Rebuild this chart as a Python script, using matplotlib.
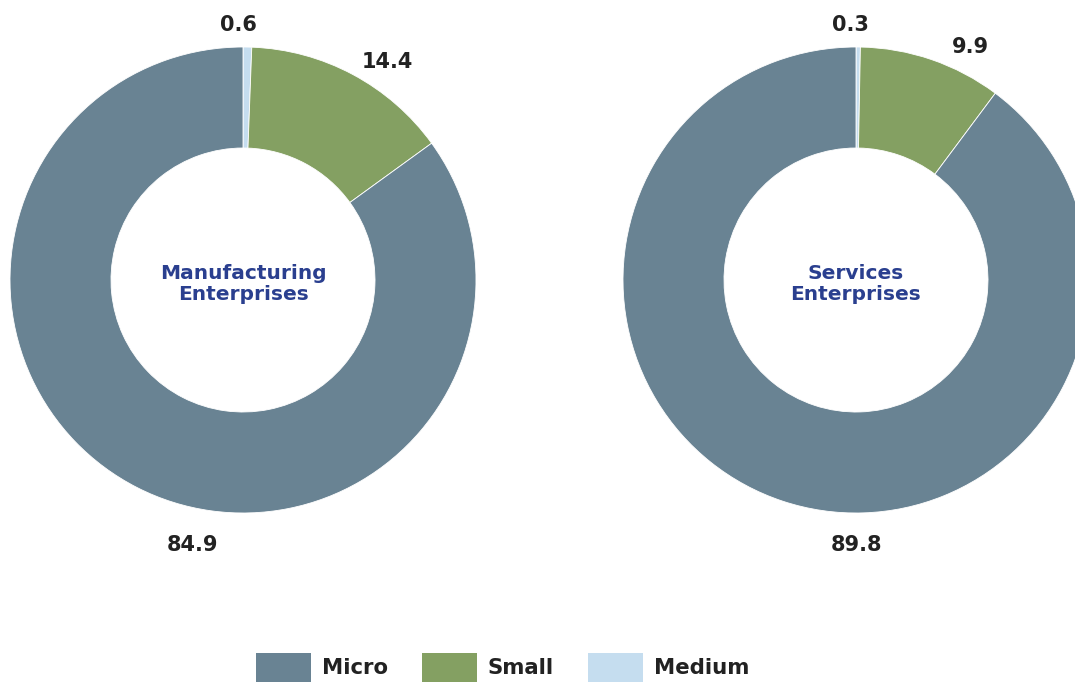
import matplotlib
matplotlib.use("Agg")
from matplotlib import pyplot as plt
from matplotlib.patches import Patch

plt.rcParams["font.family"] = ["DejaVu Sans"]

categories = ["Micro", "Small", "Medium"]
colors = ["#698393", "#84a062", "#c5ddef"]

manufacturing = [84.9, 14.4, 0.6]
services = [89.8, 9.9, 0.3]
titles = ["Manufacturing\nEnterprises", "Services\nEnterprises"]

W, H = 1075, 682
fig = plt.figure(figsize=(W / 100, H / 100), dpi=100)
ax = fig.add_axes([0, 0, 1, 1])

R_OUT, R_IN = 233, 132
centers = [(243, H - 280), (856, H - 280)]
# label anchor points (pixels from top-left) for Micro, Small, Medium
label_pos = [
    [(193, 545), (387, 62), (238, 25)],
    [(857, 545), (970, 47), (850, 25)],
]

for vals, c, title, lp in zip([manufacturing, services], centers, titles, label_pos):
    # Medium starts at 12 o'clock, going clockwise: Medium, Small, Micro
    order = [2, 1, 0]
    ax.pie([vals[i] for i in order], colors=[colors[i] for i in order],
           startangle=90, counterclock=False, center=c, radius=R_OUT,
           wedgeprops=dict(width=R_OUT - R_IN, edgecolor="white", linewidth=0.6),
           frame=True)
    ax.text(c[0], c[1] - 4, title, ha="center", va="center", fontsize=14.5,
            fontweight="bold", color="#2a3f8f", linespacing=1.1)
    for v, (px, py) in zip(vals, lp):
        ax.text(px, H - py, f"{v:.1f}", ha="center", va="center", fontsize=15,
                fontweight="bold", color="#222222")

ax.set_xlim(0, W)
ax.set_ylim(0, H)
ax.set_aspect("equal")
ax.axis("off")

handles = [Patch(facecolor=col, edgecolor="none") for col in colors]
ax.legend(handles, categories, loc="upper left", bbox_to_anchor=(256, H - 653),
          bbox_transform=ax.transData, ncol=3, frameon=False,
          prop=dict(weight="bold", size=15.3), borderpad=0, borderaxespad=0,
          handlelength=2.6, handleheight=1.7, handletextpad=0.5,
          columnspacing=1.6, labelcolor="#222222")

fig.savefig("out.png", dpi=100)
